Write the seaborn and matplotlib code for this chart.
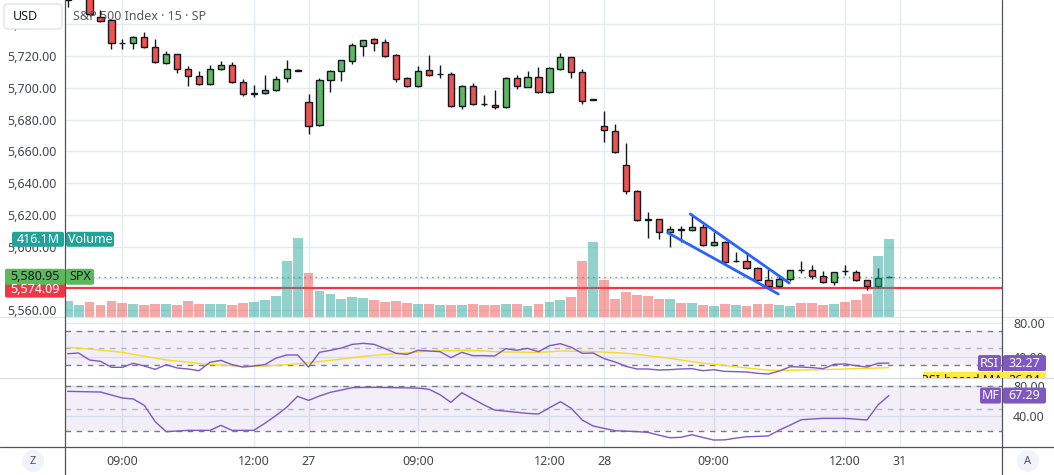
import numpy as np
import matplotlib
matplotlib.use("Agg")
import matplotlib.pyplot as plt
import matplotlib.transforms as mtransforms
from matplotlib.patches import Rectangle, FancyBboxPatch, Circle
import seaborn as sns

sns.set_theme(style="white")
plt.rcParams["font.family"] = ["Noto Sans", "DejaVu Sans"]

# ---- data: 15 min bars, index counted from the 06:30 open of day 26 (27 bars per day)
bars = list(range(5, 81))

opens = [5755.0, 5762.0, 5762.0, 5744.6, 5742.7, 5728.2, 5728.0, 5731.8, 5725.5, 5715.4, 5721.1,
         5711.6, 5707.6, 5702.2, 5711.6, 5714.2, 5703.4, 5696.1, 5696.5, 5698.6, 5706.0, 5710.6,
         5690.9, 5676.4, 5704.7, 5710.6, 5716.7, 5726.5, 5730.5, 5728.7, 5720.5, 5706.0, 5700.9,
         5711.0, 5708.4, 5708.5, 5688.3, 5701.3, 5689.7, 5689.0, 5687.7, 5706.0, 5700.7, 5706.6,
         5697.1, 5712.0, 5719.2, 5710.0, 5692.6,
         5675.7, 5672.6, 5651.2, 5634.8, 5617.2, 5617.1, 5608.9, 5610.9, 5610.2, 5612.1, 5600.8,
         5602.7, 5590.6, 5590.7, 5586.3, 5578.7, 5574.9, 5579.3, 5585.1, 5585.0, 5581.2, 5577.4,
         5584.5, 5583.7, 5578.7, 5574.9, 5580.8]
highs = [5770.0, 5771.0, 5765.0, 5749.0, 5743.0, 5730.7, 5732.6, 5735.1, 5730.7, 5723.2, 5721.5,
         5713.7, 5710.6, 5714.4, 5716.9, 5716.2, 5705.5, 5701.7, 5708.0, 5707.6, 5717.5, 5711.8,
         5695.9, 5706.0, 5711.2, 5717.8, 5728.0, 5730.3, 5731.2, 5730.7, 5721.0, 5706.8, 5713.5,
         5720.6, 5714.2, 5709.9, 5701.8, 5702.8, 5695.3, 5698.6, 5706.5, 5708.0, 5710.6, 5713.1,
         5712.8, 5721.7, 5719.7, 5711.8, 5693.1,
         5685.4, 5677.2, 5665.0, 5635.6, 5621.7, 5617.6, 5612.9, 5612.9, 5619.2, 5614.2, 5609.0,
         5603.2, 5596.4, 5596.4, 5586.8, 5585.6, 5581.9, 5585.5, 5590.7, 5588.2, 5584.4, 5584.2,
         5588.2, 5585.0, 5579.2, 5586.3, 5581.2]
lows = [5750.9, 5758.0, 5745.0, 5741.5, 5724.4, 5724.4, 5724.4, 5725.0, 5715.6, 5715.0, 5709.5,
        5701.3, 5701.8, 5701.8, 5711.0, 5703.0, 5695.0, 5694.2, 5696.0, 5698.0, 5703.8, 5710.3,
        5670.7, 5676.0, 5697.5, 5704.5, 5715.2, 5720.2, 5723.4, 5719.3, 5703.8, 5700.4, 5700.4,
        5707.4, 5706.0, 5687.8, 5686.8, 5689.1, 5688.5, 5686.8, 5687.2, 5699.4, 5700.2, 5696.6,
        5696.6, 5711.2, 5706.4, 5690.0, 5692.3,
        5666.0, 5659.2, 5633.3, 5616.0, 5605.5, 5604.9, 5599.5, 5603.0, 5609.7, 5600.3, 5600.3,
        5588.8, 5590.4, 5585.8, 5578.2, 5574.4, 5574.4, 5578.3, 5583.1, 5579.3, 5577.0, 5575.6,
        5581.9, 5578.2, 5572.4, 5573.7, 5580.6]
closes = [5765.0, 5768.0, 5746.5, 5742.1, 5728.0, 5728.0, 5732.2, 5725.5, 5716.1, 5721.1, 5711.6,
          5707.6, 5702.2, 5711.6, 5714.2, 5703.6, 5695.9, 5696.4, 5698.6, 5705.7, 5711.6, 5711.4,
          5675.9, 5704.7, 5710.6, 5717.3, 5726.8, 5729.9, 5728.0, 5719.8, 5705.7, 5700.9, 5710.4,
          5707.9, 5708.6, 5688.3, 5701.3, 5689.6, 5689.5, 5687.7, 5706.0, 5700.9, 5706.6, 5697.1,
          5712.3, 5719.2, 5709.8, 5691.5, 5692.9,
          5673.2, 5659.7, 5634.8, 5616.5, 5617.0, 5608.9, 5610.8, 5610.7, 5612.1, 5600.8, 5602.7,
          5590.1, 5590.8, 5586.3, 5578.7, 5574.9, 5579.3, 5585.0, 5584.9, 5581.2, 5577.4, 5583.7,
          5584.3, 5578.7, 5574.9, 5580.0, 5580.95]
volume_m = [84, 63, 79, 63, 84, 73, 68, 63, 68, 68, 63, 84, 68, 68, 68, 63, 73, 79, 89, 111, 300, 421,
            234, 138, 122, 95, 105, 100, 89, 79, 84, 73, 68, 68, 63, 63, 63, 68, 63, 63, 68, 68, 57,
            68, 79, 89, 105, 298, 400,
            196, 95, 132, 116, 111, 96, 96, 75, 75, 63, 57, 68, 63, 57, 68, 68, 63, 57, 73, 73, 63,
            68, 79, 89, 121, 325, 416.1]
rsi = [43.3, 44.1, 35.9, 34.3, 27.3, 27.3, 32.0, 28.8, 24.9, 30.4, 26.5, 25.3, 23.3, 33.2, 35.5,
       30.4, 27.6, 28.8, 30.4, 37.9, 41.8, 41.8,
       27.6, 44.9, 47.3, 50.0, 54.3, 55.5, 54.3, 49.2, 43.8, 42.5, 47.3, 46.5, 45.7, 38.6, 44.9,
       41.0, 41.0, 40.6, 49.2, 47.3, 49.6, 45.7, 52.7, 55.1, 50.8, 43.7, 44.1,
       37.5, 33.5, 28.4, 25.3, 25.3, 24.1, 24.5, 25.3, 25.7, 23.3, 24.5, 22.5, 22.2, 21.8, 20.2,
       19.4, 22.9, 28.0, 27.6, 26.9, 25.7, 30.8, 31.2, 29.2, 27.6, 32.0, 32.27]
rsi_ma = [50.8, 49.8, 48.7, 47.5, 46.2, 44.9, 42.6, 40.4, 38.1, 35.9, 34.6, 33.3, 32.0, 30.8, 29.9,
          29.1, 28.4, 28.5, 28.8, 29.5, 30.4, 31.5,
          32.7, 34.1, 35.5, 37.0, 38.6, 40.2, 41.4, 42.4, 43.3, 44.2, 45.4, 46.5, 46.8, 47.0, 47.3,
          47.0, 46.6, 45.7, 45.4, 45.2, 45.0, 44.9, 45.5, 46.5, 46.3, 46.0, 45.7,
          45.2, 44.6, 43.8, 42.5, 41.0, 39.5, 37.9, 35.9, 34.0, 32.2, 30.8, 29.5, 28.0, 26.6, 25.2,
          23.9, 23.7, 23.8, 24.1, 24.3, 24.6, 24.9, 25.3, 25.7, 26.1, 26.5, 26.84]
mfi = [72.9, 72.6, 72.3, 72.0, 68.0, 64.0, 62.7, 54.2, 32.4, 19.1, 20.0, 20.9, 20.9, 20.9, 27.6,
       20.9, 20.9, 20.9, 30.2, 40.4, 51.6, 66.2,
       60.9, 66.7, 71.6, 74.7, 77.8, 78.1, 78.2, 78.0, 77.8, 77.5, 77.2, 75.6, 68.5, 58.2, 71.1,
       63.0, 55.0, 48.0, 46.5, 45.0, 43.5, 42.7, 51.0, 59.1, 50.2, 34.7, 26.7,
       23.5, 20.4, 19.8, 19.2, 18.2, 14.5, 11.1, 11.6, 15.1, 11.5, 8.0, 8.2, 10.5, 12.4, 12.8,
       13.5, 21.3, 28.0, 35.1, 36.0, 36.9, 36.9, 36.9, 35.8, 34.7, 54.7, 67.29]

time_ticks = [10, 22, 27, 37, 49, 54, 64, 76, 81]
time_labels = ["09:00", "12:00", "27", "09:00", "12:00", "28", "09:00", "12:00", "31"]
price_ticks = [5560, 5580, 5600, 5620, 5640, 5660, 5680, 5700, 5720, 5740]
last_price = 5580.95
red_level = 5574.09
last_volume_label = "416.1M"
channel_upper_x = [61.86, 70.9]
channel_upper_y = [5620.5, 5577.0]
channel_lower_x = [59.8, 69.9]
channel_lower_y = [5608.7, 5570.1]

UP, DOWN = "#5fb861", "#ef5350"
VOL_UP, VOL_DOWN = (0.149, 0.651, 0.604, 0.5), (0.937, 0.325, 0.314, 0.5)
PURPLE = "#7e57c2"
GRID = "#e4eaf0"
TXT = "#434651"
W, H = 1054, 475
XLIM = (4.758, 90.33)


def frac(x0, y0, x1, y1):
    return [x0 / W, 1 - y1 / H, (x1 - x0) / W, (y1 - y0) / H]


fig = plt.figure(figsize=(W / 100, H / 100), dpi=100)
ax = fig.add_axes(frac(65, 0, 1002, 317))
ax_rsi = fig.add_axes(frac(65, 317, 1002, 378))
ax_mf = fig.add_axes(frac(65, 378, 1002, 447))

for a in (ax, ax_rsi, ax_mf):
    a.set_xlim(*XLIM)
    a.set_xticks(time_ticks)
    a.grid(True, color=GRID, lw=1)
    a.set_axisbelow(True)
    for s in a.spines.values():
        s.set_visible(False)
    a.tick_params(axis="x", length=0, labelbottom=False)

# ---- price pane
o = np.array(opens)
c = np.array(closes)
up = c >= o
ax.set_ylim(5555.6, 5755.3)
ax.set_yticks(price_ticks)
ax.set_yticklabels([f"{p:,.2f}" for p in price_ticks])
ax.tick_params(axis="y", length=0, pad=6, labelsize=9, labelcolor=TXT)

ax.axhline(red_level, color="#f23645", lw=1.6, zorder=2)
ax.axhline(last_price, color="#4caf50", lw=1, ls=(0, (1, 3)), zorder=2)
ax.vlines(bars, lows, highs, color="#131722", lw=1, zorder=3)
ax.bar(bars, np.abs(c - o), bottom=np.minimum(o, c), width=0.56,
       color=np.where(up, UP, DOWN), edgecolor="#131722", linewidth=1, zorder=4)
ax.plot(channel_upper_x, channel_upper_y, color="#2962ff", lw=2, solid_capstyle="round", zorder=6)
ax.plot(channel_lower_x, channel_lower_y, color="#2962ff", lw=2, solid_capstyle="round", zorder=6)

axv = ax.twinx()
axv.set_ylim(0, 416.1 * 317 / 77.7)
axv.set_yticks([])
for s in axv.spines.values():
    s.set_visible(False)
axv.bar(bars, volume_m, width=0.9, color=[VOL_UP if u else VOL_DOWN for u in up], linewidth=0)

# ---- RSI pane
ax_rsi.set_ylim(14.7, 86.5)
ax_rsi.axhspan(30, 70, color=PURPLE, alpha=0.09, lw=0)
ax_rsi.axhline(70, color="#787b86", lw=1, ls=(0, (4, 4)))
ax_rsi.axhline(50, color="#b2b5be", lw=1, ls=(0, (4, 4)))
ax_rsi.axhline(30, color="#787b86", lw=1, ls=(0, (4, 4)))
sns.lineplot(x=bars, y=rsi_ma, ax=ax_rsi, color="#f5dc1f", linewidth=1)
sns.lineplot(x=bars, y=rsi, ax=ax_rsi, color=PURPLE, linewidth=1)
ax_rsi.set_yticks([40, 80])
ax_rsi.set_yticklabels(["40.00", "80.00"])

# ---- Money flow pane
ax_mf.set_ylim(-1.3, 90.7)
ax_mf.axhspan(20, 80, color=PURPLE, alpha=0.09, lw=0)
ax_mf.axhline(80, color="#787b86", lw=1, ls=(0, (4, 4)))
ax_mf.axhline(50, color="#b2b5be", lw=1, ls=(0, (4, 4)))
ax_mf.axhline(20, color="#787b86", lw=1, ls=(0, (4, 4)))
sns.lineplot(x=bars, y=mfi, ax=ax_mf, color=PURPLE, linewidth=1)
ax_mf.set_yticks([40, 80])
ax_mf.set_yticklabels(["40.00", "80.00"])
ax_mf.set_xticklabels(time_labels)
ax_mf.tick_params(axis="x", labelbottom=True, pad=6, labelsize=9, labelcolor=TXT)

for a in (ax_rsi, ax_mf):
    a.set_xlabel("")
    a.set_ylabel("")
    a.yaxis.tick_right()
    a.tick_params(axis="y", length=0, pad=8, labelsize=9, labelcolor=TXT)

# ---- overlay: separators, labels, buttons (pixel coordinates)
ov = fig.add_axes([0, 0, 1, 1], zorder=20)
ov.set_xlim(0, W)
ov.set_ylim(H, 0)
ov.axis("off")
ov.patch.set_alpha(0)


def to_px(axis, val):
    disp = axis.transData.transform((0, val))
    return ov.transData.inverted().transform(disp)[1]


def tag(x0, x1, yc, text, fc, tc, h=16):
    ov.add_patch(FancyBboxPatch((x0, yc - h / 2), x1 - x0, h, boxstyle="round,pad=0,rounding_size=2",
                                fc=fc, ec="none", zorder=5))
    ov.text((x0 + x1) / 2, yc, text, ha="center", va="center", color=tc, fontsize=9, zorder=6)


ov.plot([0, W], [317, 317], color="#e0e3eb", lw=0.8)
ov.plot([0, W], [378, 378], color="#d6d8e3", lw=0.8)
ov.plot([0, W], [447, 447], color="#50535e", lw=0.9)
ov.plot([65, 65], [0, H], color="#50535e", lw=0.9)
ov.plot([1002, 1002], [0, H], color="#50535e", lw=0.9)

ov.add_patch(FancyBboxPatch((4, 4), 58, 25, boxstyle="round,pad=0,rounding_size=4",
                            fc="white", ec="#e0e3eb", lw=1, zorder=5))
ov.text(13, 17, "USD", ha="left", va="center", fontsize=9, color="#131722", zorder=6)
ov.text(73, 16, "S&P 500 Index · 15 · SP", ha="left", va="center", fontsize=9, color="#555862", zorder=6)

yv = to_px(axv, volume_m[-1])
tag(12, 64, yv, last_volume_label, "#22a39a", "white", h=15)
tag(66, 114, yv, "Volume", "#22a39a", "white", h=15)

yr_line = to_px(ax, red_level)
tag(5, 65, yr_line + 2, f"{red_level:,.2f}", "#f23645", "white")
yg = to_px(ax, last_price)
tag(5, 65, yg, f"{last_price:,.2f}", "#5cb85c", "#131722")
tag(66, 94, yg, "SPX", "#5cb85c", "#131722")

# RSI-based MA label, pushed below the RSI label and cut by the pane edge
clip = mtransforms.TransformedBbox(mtransforms.Bbox([[923, 372], [1046, 378]]), ov.transData)
ov.add_patch(Rectangle((923, 372), 123, 6, fc="#ffeb3b", ec="none", zorder=4))
t1 = ov.text(962, 381, "RSI-based MA", ha="center", va="center", fontsize=9, color="#131722", zorder=4)
t2 = ov.text(1024, 381, f"{rsi_ma[-1]:.2f}", ha="center", va="center", fontsize=9, color="#131722", zorder=4)
for t in (t1, t2):
    t.set_clip_box(clip)
    t.set_clip_on(True)

yr = to_px(ax_rsi, rsi[-1])
tag(978, 1001, yr, "RSI", PURPLE, "white")
tag(1003, 1046, yr, f"{rsi[-1]:.2f}", PURPLE, "white")
ym = to_px(ax_mf, mfi[-1])
tag(980, 1001, ym, "MF", PURPLE, "white")
tag(1003, 1046, ym, f"{mfi[-1]:.2f}", PURPLE, "white")

for cx, letter in ((33, "Z"), (1028, "A")):
    ov.add_patch(Circle((cx, 461), 11, fc="#f0f3fa", ec="none", zorder=5))
    ov.text(cx, 461, letter, ha="center", va="center", fontsize=8, color="#50535e", zorder=6)

fig.savefig("out.png", dpi=100)
